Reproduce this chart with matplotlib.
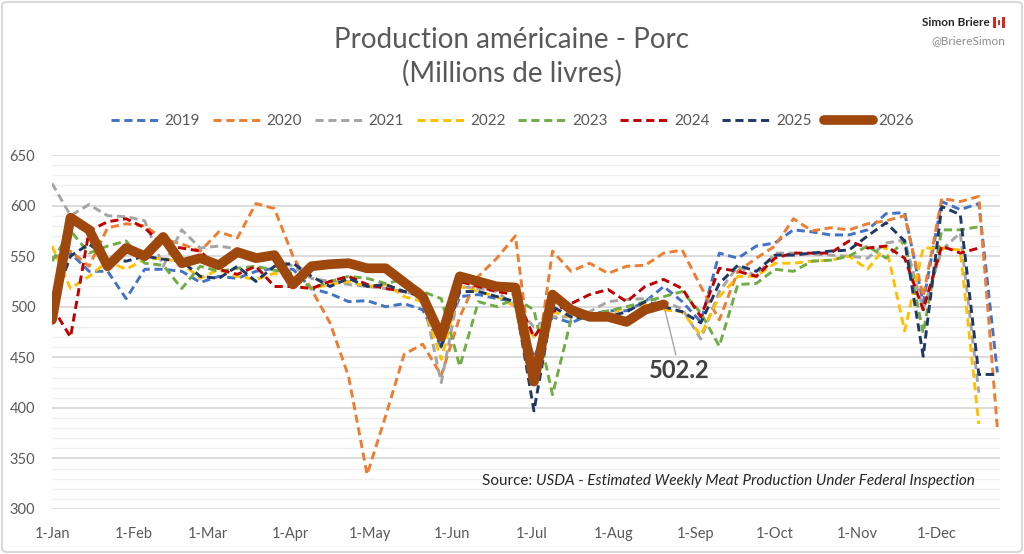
import numpy as np
import matplotlib
matplotlib.use("Agg")
import matplotlib.pyplot as plt
from matplotlib.patches import FancyBboxPatch, Rectangle
from matplotlib.ticker import MultipleLocator

plt.rcParams['font.family'] = ['Lato', 'DejaVu Sans']

# weekly pork production (millions of lbs), one value per week starting 1-Jan
y2019 = [548, 553, 535, 535, 508, 537, 537, 535, 524, 530, 528, 535, 538, 537, 518, 513,
         505, 506, 500, 503, 497, 460, 510, 512, 508, 505, 450, 490, 484, 492, 496, 496,
         505, 520, 505, 485, 553, 548, 560, 563, 576, 574, 571, 571, 576, 592, 593, 504,
         604, 596, 602, 435]
y2020 = [548, 555, 540, 578, 582, 580, 567, 562, 555, 574, 568, 602, 597, 550, 517, 484,
         431, 334, 392, 453, 463, 432, 490, 530, 548, 570, 425, 555, 535, 543, 533, 540,
         541, 553, 556, 520, 487, 535, 548, 560, 587, 575, 578, 576, 582, 585, 590, 510,
         607, 604, 609, 380]
y2021 = [622, 590, 601, 590, 589, 585, 540, 576, 558, 560, 557, 552, 548, 540, 528, 525,
         522, 520, 518, 515, 510, 425, 520, 518, 515, 500, 480, 490, 490, 495, 505, 507,
         508, 505, 498, 468, 515, 540, 530, 553, 553, 552, 551, 550, 548, 563, 566, 497,
         556, 573, 415]
y2022 = [560, 518, 530, 545, 537, 547, 548, 543, 528, 537, 530, 527, 533, 528, 518, 522,
         525, 520, 522, 510, 505, 448, 520, 515, 510, 500, 470, 495, 490, 490, 492, 500,
         502, 497, 495, 472, 510, 530, 530, 543, 543, 545, 546, 550, 537, 560, 476, 558,
         558, 556, 384]
y2023 = [545, 575, 553, 560, 565, 543, 541, 518, 540, 535, 538, 540, 536, 533, 518, 525,
         530, 528, 523, 527, 515, 508, 441, 505, 500, 508, 497, 413, 487, 492, 496, 500,
         505, 510, 515, 494, 461, 522, 523, 537, 535, 545, 546, 550, 560, 548, 565, 474,
         576, 576, 579]
y2024 = [500, 470, 575, 584, 587, 578, 561, 558, 555, 537, 532, 540, 520, 520, 518, 525,
         530, 522, 518, 515, 512, 465, 525, 520, 515, 512, 470, 495, 503, 512, 517, 505,
         520, 527, 518, 490, 538, 535, 530, 548, 553, 553, 553, 565, 558, 560, 548, 497,
         560, 553, 558]
y2025 = [500, 550, 562, 548, 545, 550, 547, 545, 530, 528, 540, 525, 540, 543, 530, 520,
         528, 520, 522, 515, 510, 461, 515, 515, 510, 505, 397, 500, 490, 488, 490, 495,
         505, 500, 495, 484, 523, 541, 535, 551, 551, 553, 555, 556, 570, 583, 565, 451,
         599, 591, 433, 433]
y2026 = [487, 588, 576, 540, 558, 550, 569, 543, 548, 541, 554, 548, 551, 522, 540, 542,
         543, 538, 538, 524, 510, 470, 530, 525, 520, 519, 426, 512, 497, 490, 490, 485,
         497, 502.2]

years = ['2019', '2020', '2021', '2022', '2023', '2024', '2025']
series = [y2019, y2020, y2021, y2022, y2023, y2024, y2025]
colors = ['#4472C4', '#ED7D31', '#A5A5A5', '#FFC000', '#70AD47', '#C00000', '#203864']

month_days = [0, 31, 59, 90, 120, 151, 181, 212, 243, 273, 304, 334]
month_labels = ['1-Jan', '1-Feb', '1-Mar', '1-Apr', '1-May', '1-Jun', '1-Jul',
                '1-Aug', '1-Sep', '1-Oct', '1-Nov', '1-Dec']

W, H = 1024, 554
fig = plt.figure(figsize=(W / 100, H / 100), dpi=100)
ax = fig.add_axes([52 / W, 1 - 509 / H, 948 / W, 354 / H])

for name, vals, c in zip(years, series, colors):
    d = np.arange(len(vals)) * 7
    ax.plot(d, vals, color=c, lw=2.1, dashes=(2.8, 1.6), label=name, zorder=3)

d26 = np.arange(len(y2026)) * 7
ax.plot(d26, y2026, color='#9E480E', lw=7, solid_joinstyle='round',
        solid_capstyle='round', label='2026', zorder=5)

ax.annotate(f'{y2026[-1]:.1f}', xy=(d26[-1], y2026[-1]), xytext=(237, 437),
            ha='center', va='center', fontsize=17, fontweight='bold', color='#404040',
            arrowprops=dict(arrowstyle='-', color='#a6a6a6', lw=1, shrinkA=1, shrinkB=5),
            zorder=6)

ax.set_xlim(0, 358)
ax.set_ylim(300, 650)
ax.yaxis.set_major_locator(MultipleLocator(50))
ax.yaxis.set_minor_locator(MultipleLocator(10))
ax.set_xticks(month_days)
ax.set_xticklabels(month_labels)
ax.grid(axis='y', which='major', color='#d9d9d9', lw=1.3, zorder=0)
ax.grid(axis='y', which='minor', color='#efefef', lw=1.0, zorder=0)
ax.tick_params(axis='both', which='both', length=0, colors='#595959', labelsize=10.5)
ax.tick_params(axis='x', pad=13)
ax.tick_params(axis='y', pad=12)
for s in ax.spines.values():
    s.set_visible(False)
ax.set_axisbelow(True)

fig.text(0.5, 1 - 40 / H, 'Production américaine - Porc', ha='center', va='center',
         fontsize=20, color='#595959')
fig.text(0.5, 1 - 73 / H, '(Millions de livres)', ha='center', va='center',
         fontsize=20, color='#595959')

leg = fig.legend(loc='center', bbox_to_anchor=(0.5, 1 - 121 / H), ncol=8, frameon=False,
                 fontsize=11, handlelength=3.2, columnspacing=0.85, handletextpad=0.3)
for t in leg.get_texts():
    t.set_color('#595959')

fig.text(990 / W, 1 - 22 / H, 'Simon Briere', ha='right', va='center', fontsize=8.5,
         fontweight='bold', color='#262626')
fig.text(1005 / W, 1 - 41 / H, '@BriereSimon', ha='right', va='center', fontsize=8.5,
         color='#8c8c8c')
# little canadian flag
fx, fy, fw, fh = 993 / W, 1 - 28 / H, 12 / W, 11 / H
fig.patches.append(Rectangle((fx, fy), fw, fh, transform=fig.transFigure,
                             facecolor='white', edgecolor='none'))
fig.patches.append(Rectangle((fx, fy), fw * 0.25, fh, transform=fig.transFigure,
                             facecolor='#d52b1e', edgecolor='none'))
fig.patches.append(Rectangle((fx + fw * 0.75, fy), fw * 0.25, fh, transform=fig.transFigure,
                             facecolor='#d52b1e', edgecolor='none'))
fig.patches.append(Rectangle((fx + fw * 0.4, fy + fh * 0.3), fw * 0.2, fh * 0.4,
                             transform=fig.transFigure, facecolor='#d52b1e', edgecolor='none'))

src = fig.text(975 / W, 1 - 481 / H, 'USDA - Estimated Weekly Meat Production Under Federal Inspection',
               ha='right', va='center', fontsize=11, style='italic', color='#262626')
fig.canvas.draw()
bb = src.get_window_extent()
fig.text(bb.x0 / W, 1 - 481 / H, 'Source: ', ha='right', va='center', fontsize=11,
         color='#262626')

fig.patches.append(FancyBboxPatch((2 / W, 2 / H), 1 - 4 / W, 1 - 4 / H,
                                  boxstyle='round,pad=0,rounding_size=0.006',
                                  transform=fig.transFigure, facecolor='none',
                                  edgecolor='#d9d9d9', lw=1.5))

fig.savefig('out.png', dpi=100)
